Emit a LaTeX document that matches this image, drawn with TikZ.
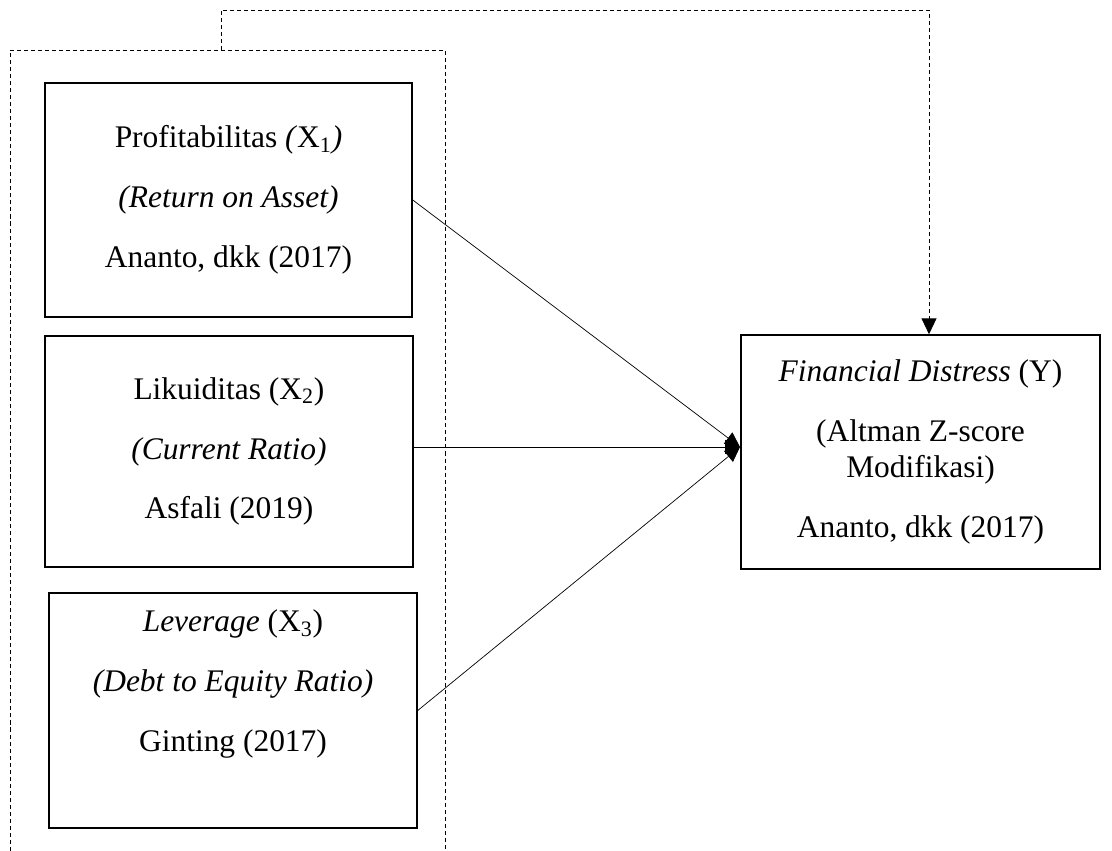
\documentclass[tikz,border=0pt]{standalone}
\usepackage{fontspec}
\setmainfont{Liberation Serif}
\usetikzlibrary{arrows.meta}
\tikzstyle{var}=[draw,rectangle,line width=0.9pt,align=center,font=\fontsize{17.9}{20.4}\selectfont]

\begin{document}
\begin{tikzpicture}[x=0.02cm,y=-0.02cm]
\tikzset{link/.style={line width=0.4pt,-{Triangle[length=8.5pt,width=8pt]}},
frame/.style={line width=0.4pt,dash pattern=on 2.3pt off 1.7pt}}
\useasboundingbox (0,0) rectangle (1112,851);

\draw[frame] (10,851) -- (10,50) -- (445,50) -- (445,851);

\node[var,minimum width=7.34cm,minimum height=4.68cm](x1) at (228.5,200)
{Profitabilitas \textit{(}X\textsubscript{1}\textit{)}\\[13.6pt]
\textit{(Return on Asset)}\\[13.6pt] Ananto, dkk (2017)};
\node[var,minimum width=7.36cm,minimum height=4.62cm](x2) at (229,451.5)
{Likuiditas (X\textsubscript{2})\\[13.6pt]
\textit{(Current Ratio)}\\[13.6pt] Asfali (2019)};
\node[var,minimum width=7.36cm,minimum height=4.7cm](x3) at (233,710.5)
{\textit{Leverage} (X\textsubscript{3})\\[13.6pt]
\textit{(Debt to Equity Ratio)}\\[13.6pt] Ginting (2017)\\[13.6pt] ~};
\node[var,minimum width=7.18cm,minimum height=4.68cm](y) at (920.5,452)
{\textit{Financial Distress} (Y)\\[13.6pt]
(Altman Z-score\\ Modifikasi)\\[13.6pt] Ananto, dkk (2017)};

\coordinate (hit) at (740,447);
\coordinate (fb) at (929,10);
\draw[link] (x1.east) -- (hit);
\draw[link] (x2.east |- hit) -- (hit);
\draw[link] (x3.east) -- (hit);
\draw[frame,-{Triangle[length=9pt,width=8.5pt]}] (221,50) -- (221,10) -- (fb) -- (fb |- y.north);

\end{tikzpicture}
\end{document}
